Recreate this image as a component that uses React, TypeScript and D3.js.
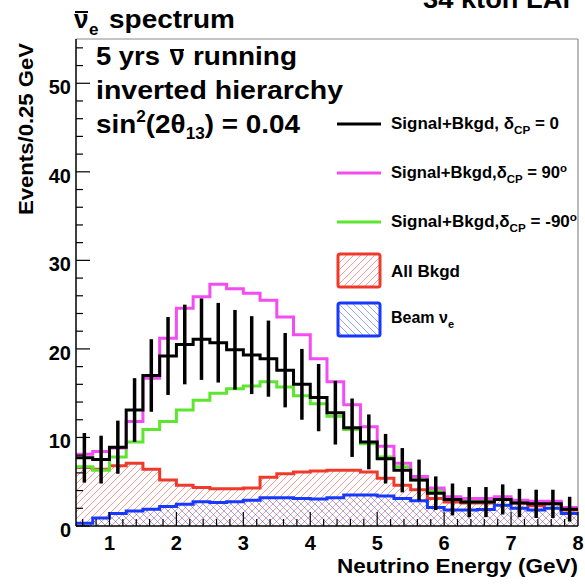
import React from 'react'
import * as d3 from 'd3'

// 0.25 GeV bins from 0.5 to 8 GeV
const binStart = 0.5
const binWidth = 0.25

// Signal+Bkgd, dCP = 0 (black, with errors)
const sigCP0 = [7.7, 7.5, 8.9, 13.1, 17.0, 19.2, 20.5, 21.1, 20.7, 19.9, 19.3, 18.9, 17.6, 16.0, 14.5, 12.8, 11.1, 9.5, 7.6, 6.3, 5.2, 3.7, 3.0, 2.7, 2.7, 3.0, 2.6, 2.5, 2.5, 1.9]
const errCP0 = [2.8, 2.7, 3.0, 3.6, 4.1, 4.4, 4.5, 4.6, 4.5, 4.5, 4.4, 4.3, 4.2, 4.0, 3.8, 3.6, 3.3, 3.1, 2.8, 2.5, 2.3, 1.9, 1.8, 1.7, 1.7, 1.7, 1.6, 1.6, 1.6, 1.4]
// Signal+Bkgd, dCP = 90
const sigCP90 = [8.1, 8.4, 8.8, 11.8, 16.7, 21.2, 24.6, 25.9, 27.3, 26.8, 26.3, 25.5, 23.6, 21.6, 18.9, 16.3, 13.7, 11.2, 9.0, 7.1, 5.6, 4.3, 3.3, 3.1, 3.1, 3.3, 2.9, 2.8, 2.8, 2.1]
// Signal+Bkgd, dCP = -90
const sigCPm90 = [6.7, 6.3, 7.8, 9.5, 10.9, 11.8, 13.1, 14.2, 15.0, 15.5, 15.8, 16.3, 15.7, 14.7, 13.8, 12.4, 10.9, 9.3, 7.8, 6.7, 5.2, 4.0, 3.1, 2.9, 2.9, 3.1, 2.7, 2.6, 2.6, 2.0]
// All Bkgd
const allBkgd = [6.6, 6.4, 6.8, 7.1, 6.4, 5.2, 4.6, 4.35, 4.2, 4.2, 4.3, 5.5, 5.9, 6.1, 6.2, 6.3, 6.3, 6.1, 5.4, 4.6, 4.1, 3.1, 2.7, 2.6, 2.6, 3.0, 2.6, 2.3, 2.5, 1.8]
// Beam nu_e
const beamNue = [0.3, 0.9, 1.4, 1.7, 1.9, 2.2, 2.45, 2.75, 2.65, 2.75, 2.9, 3.2, 3.2, 3.1, 3.05, 3.2, 3.5, 3.5, 3.4, 3.1, 2.85, 2.1, 1.8, 1.8, 1.85, 2.35, 2.0, 1.8, 2.0, 1.4]

const yTickLabels = ['0', '10', '20', '30', '40', '50']
const xTickLabels = ['1', '2', '3', '4', '5', '6', '7', '8']

const RED = '#ef3a2b'
const BLUE = '#1638ff'
const GREEN = '#5ce62e'
const MAGENTA = '#f24cf2'
const FONT = "'Liberation Sans', Arial, Helvetica, sans-serif"

const x = d3.scaleLinear().domain([0.5, 8]).range([76, 578])
const y = d3.scaleLinear().domain([0, 55]).range([526, 39])

const edge = (i: number) => binStart + i * binWidth

const histPts = (vals: number[]): [number, number][] => [
  ...vals.map((v, i) => [edge(i), v] as [number, number]),
  [edge(vals.length), vals[vals.length - 1]],
]

const stepLine = d3.line<[number, number]>()
  .x(d => x(d[0]))
  .y(d => y(d[1]))
  .curve(d3.curveStepAfter)

const stepArea = d3.area<[number, number]>()
  .x(d => x(d[0]))
  .y0(y(0))
  .y1(d => y(d[1]))
  .curve(d3.curveStepAfter)

const S = 7

const App = () => {
  const yMajor = y.ticks(6)
  const yMinor = y.ticks(28).filter(t => t % 10 !== 0)
  const xMajor = x.ticks(8)
  const xMinor = x.ticks(40).filter(t => Math.abs(t - Math.round(t)) > 1e-6)

  return (
    <svg width={585} height={585} style={{ position: 'absolute', left: 0, top: 0, background: '#fff' }} fontFamily={FONT}>
      <defs>
        <clipPath id="plot">
          <rect x={76} y={39} width={502} height={487} />
        </clipPath>
        <pattern id="hatchRed" patternUnits="userSpaceOnUse" width={S} height={S}>
          <path d={`M0,${S} L${S},0 M${-S / 2},${S / 2} L${S / 2},${-S / 2} M${S / 2},${S * 1.5} L${S * 1.5},${S / 2}`}
            stroke={RED} strokeOpacity={0.55} strokeWidth={0.9} />
        </pattern>
        <pattern id="hatchBlue" patternUnits="userSpaceOnUse" width={S} height={S}>
          <path d={`M0,0 L${S},${S} M${-S / 2},${S / 2} L${S / 2},${S * 1.5} M${S / 2},${-S / 2} L${S * 1.5},${S / 2}`}
            stroke={BLUE} strokeOpacity={0.5} strokeWidth={0.9} />
        </pattern>
      </defs>

      {/* top title, partly above the page edge as in the original */}
      <text x={423} y={8} fontSize={26} fontWeight="bold" textLength={150} lengthAdjust="spacingAndGlyphs">34 kton LAr</text>

      {/* nu-bar_e spectrum */}
      <text x={74} y={28} fontSize={26} fontWeight="bold">ν</text>
      <line x1={75} x2={88} y1={12} y2={12} stroke="#000" strokeWidth={2} />
      <text x={89} y={35} fontSize={17} fontWeight="bold">e</text>
      <text x={109} y={28} fontSize={26} fontWeight="bold" textLength={126} lengthAdjust="spacingAndGlyphs">spectrum</text>

      {/* frame */}
      <line x1={76} x2={578} y1={39} y2={39} stroke="#8a8a8a" strokeWidth={1.2} />
      <line x1={578} x2={578} y1={39} y2={526} stroke="#8a8a8a" strokeWidth={1.2} />

      <g clipPath="url(#plot)">
        <path d={stepArea(histPts(allBkgd)) ?? ''} fill="url(#hatchRed)" />
        <path d={stepArea(histPts(beamNue)) ?? ''} fill="url(#hatchBlue)" />
        <path d={stepLine(histPts(allBkgd)) ?? ''} fill="none" stroke={RED} strokeWidth={3} />
        <path d={stepLine(histPts(beamNue)) ?? ''} fill="none" stroke={BLUE} strokeWidth={3} />
        <path d={stepLine(histPts(sigCPm90)) ?? ''} fill="none" stroke={GREEN} strokeWidth={3} />
        <path d={stepLine(histPts(sigCP90)) ?? ''} fill="none" stroke={MAGENTA} strokeWidth={3} />
        <path d={stepLine(histPts(sigCP0)) ?? ''} fill="none" stroke="#000" strokeWidth={3} />
        {sigCP0.map((v, i) => {
          const cx = x(edge(i) + binWidth / 2)
          return <line key={i} x1={cx} x2={cx} y1={y(v - errCP0[i])} y2={y(v + errCP0[i])} stroke="#000" strokeWidth={3.5} />
        })}
      </g>

      {/* axes */}
      <line x1={76} x2={76} y1={39} y2={526} stroke="#000" strokeWidth={1.5} />
      <line x1={76} x2={578} y1={526} y2={526} stroke="#000" strokeWidth={1.5} />
      {yMajor.map(t => <line key={'ym' + t} x1={76} x2={90} y1={y(t)} y2={y(t)} stroke="#000" strokeWidth={1.2} />)}
      {yMinor.map(t => <line key={'yn' + t} x1={76} x2={83} y1={y(t)} y2={y(t)} stroke="#000" strokeWidth={1.2} />)}
      {xMajor.map(t => <line key={'xm' + t} x1={x(t)} x2={x(t)} y1={526} y2={512} stroke="#000" strokeWidth={1.2} />)}
      {xMinor.map(t => <line key={'xn' + t} x1={x(t)} x2={x(t)} y1={526} y2={519} stroke="#000" strokeWidth={1.2} />)}

      {yMajor.map((t, i) => (
        <text key={'yl' + t} x={71} y={y(t) + 11} textAnchor="end" fontSize={20} fontWeight="bold">{yTickLabels[i]}</text>
      ))}
      {xMajor.map((t, i) => (
        <text key={'xl' + t} x={x(t)} y={550} textAnchor="middle" fontSize={20} fontWeight="bold">{xTickLabels[i]}</text>
      ))}

      <text x={578} y={573} textAnchor="end" fontSize={20} fontWeight="bold" textLength={241} lengthAdjust="spacingAndGlyphs">Neutrino Energy (GeV)</text>
      <text transform="translate(33,43) rotate(-90)" textAnchor="end" fontSize={20} fontWeight="bold" textLength={172} lengthAdjust="spacingAndGlyphs">Events/0.25 GeV</text>

      {/* info text */}
      <text x={96} y={65} fontSize={26} fontWeight="bold" textLength={64} lengthAdjust="spacingAndGlyphs">5 yrs</text>
      <text x={170} y={65} fontSize={26} fontWeight="bold">ν</text>
      <line x1={170} x2={184} y1={50} y2={50} stroke="#000" strokeWidth={2} />
      <text x={193} y={65} fontSize={26} fontWeight="bold" textLength={104} lengthAdjust="spacingAndGlyphs">running</text>
      <text x={96} y={99} fontSize={26} fontWeight="bold" textLength={247} lengthAdjust="spacingAndGlyphs">inverted hierarchy</text>
      <text x={96} y={133} fontSize={26} fontWeight="bold" textLength={204} lengthAdjust="spacingAndGlyphs">
        sin<tspan fontSize={16} dy={-11}>2</tspan><tspan dy={11}>(2θ</tspan><tspan fontSize={16} dy={6}>13</tspan><tspan dy={-6}>) = 0.04</tspan>
      </text>

      {/* legend */}
      <line x1={337} x2={381} y1={124} y2={124} stroke="#000" strokeWidth={3} />
      <text x={391} y={129} fontSize={16} fontWeight="bold" textLength={168} lengthAdjust="spacingAndGlyphs">
        Signal+Bkgd, δ<tspan fontSize={11} dy={5}>CP</tspan><tspan dy={-5}> = 0</tspan>
      </text>
      <line x1={337} x2={381} y1={173} y2={173} stroke={MAGENTA} strokeWidth={3} />
      <text x={391} y={178} fontSize={16} fontWeight="bold" textLength={176} lengthAdjust="spacingAndGlyphs">
        Signal+Bkgd,δ<tspan fontSize={11} dy={5}>CP</tspan><tspan dy={-5}> = 90</tspan><tspan fontSize={11} dy={-6}>o</tspan>
      </text>
      <line x1={337} x2={381} y1={222} y2={222} stroke={GREEN} strokeWidth={3} />
      <text x={391} y={227} fontSize={16} fontWeight="bold" textLength={186} lengthAdjust="spacingAndGlyphs">
        Signal+Bkgd,δ<tspan fontSize={11} dy={5}>CP</tspan><tspan dy={-5}> = -90</tspan><tspan fontSize={11} dy={-6}>o</tspan>
      </text>
      <rect x={338} y={254} width={42} height={33} rx={2} fill="url(#hatchRed)" stroke={RED} strokeWidth={3} />
      <text x={391} y={277} fontSize={16} fontWeight="bold" textLength={69} lengthAdjust="spacingAndGlyphs">All Bkgd</text>
      <rect x={338} y={303} width={42} height={33} rx={2} fill="url(#hatchBlue)" stroke={BLUE} strokeWidth={3} />
      <text x={391} y={323} fontSize={16} fontWeight="bold">
        Beam ν<tspan fontSize={11} dy={5}>e</tspan>
      </text>
    </svg>
  )
}

export default App
